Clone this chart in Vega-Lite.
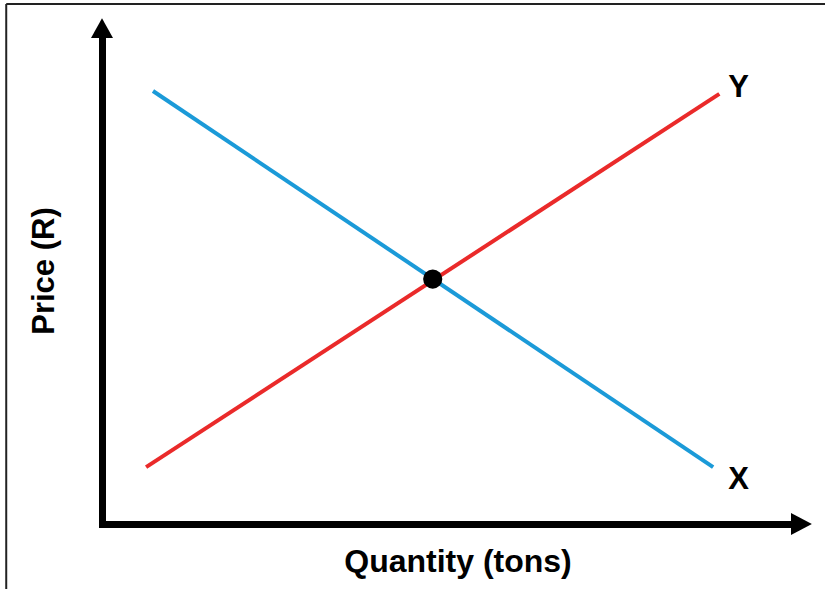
{
  "$schema": "https://vega.github.io/schema/vega-lite/v6.json",
  "width": 689,
  "height": 486,
  "autosize": {"type": "none"},
  "padding": {"left": 102, "top": 38, "right": 34, "bottom": 65},
  "background": "white",
  "config": {
    "view": {"stroke": null},
    "axis": {
      "ticks": false,
      "labels": false,
      "grid": false,
      "domainColor": "#000000",
      "domainWidth": 7,
      "domainCap": "square",
      "titleFont": "Liberation Sans",
      "titleFontSize": 31,
      "titleFontWeight": "bold",
      "titleColor": "#000000"
    },
    "axisX": {"titleX": 355.5, "titleY": 47, "titleBaseline": "alphabetic", "titleAlign": "center", "titleFontSize": 32},
    "axisY": {"titleX": -49, "titleY": 232.5, "titleBaseline": "alphabetic", "titleAlign": "center", "titleAngle": 270}
  },
  "datasets": {
    "curves": [
      {"series": "X", "q": 7.4, "p": 89.1},
      {"series": "X", "q": 88.7, "p": 11.7},
      {"series": "Y", "q": 6.4, "p": 11.7},
      {"series": "Y", "q": 89.6, "p": 88.5}
    ],
    "equilibrium": [{"q": 48.0, "p": 50.4}],
    "labels": [
      {"label": "Y", "q": 92.4, "p": 87.9},
      {"label": "X", "q": 92.4, "p": 7.2}
    ],
    "xarrow": [{"q": 100, "p": 0}],
    "yarrow": [{"q": 0, "p": 100}],
    "frame": [
      {"q": -13.9, "q2": -13.9, "p": -14, "p2": 107},
      {"q": -13.9, "q2": 105, "p": 107, "p2": 107}
    ]
  },
  "layer": [
    {
      "data": {"name": "curves"},
      "mark": {"type": "line", "strokeWidth": 4},
      "encoding": {
        "x": {
          "field": "q", "type": "quantitative", "title": "Quantity (tons)",
          "scale": {"domain": [0, 100], "nice": false, "zero": false}
        },
        "y": {
          "field": "p", "type": "quantitative", "title": "Price (R)",
          "scale": {"domain": [0, 100], "nice": false, "zero": false}
        },
        "color": {
          "field": "series", "type": "nominal",
          "scale": {"domain": ["X", "Y"], "range": ["#1b9ad8", "#ea2a2a"]},
          "legend": null
        }
      }
    },
    {
      "data": {"name": "equilibrium"},
      "mark": {"type": "point", "shape": "circle", "filled": true, "size": 370, "color": "#000000", "opacity": 1, "strokeWidth": 0},
      "encoding": {
        "x": {"field": "q", "type": "quantitative", "title": "Quantity (tons)"},
        "y": {"field": "p", "type": "quantitative", "title": "Price (R)"}
      }
    },
    {
      "data": {"name": "labels"},
      "mark": {"type": "text", "font": "Liberation Sans", "fontSize": 31, "fontWeight": "bold", "color": "#000000", "align": "center", "baseline": "alphabetic"},
      "encoding": {
        "x": {"field": "q", "type": "quantitative", "title": "Quantity (tons)"},
        "y": {"field": "p", "type": "quantitative", "title": "Price (R)"},
        "text": {"field": "label"}
      }
    },
    {
      "data": {"name": "xarrow"},
      "mark": {"type": "point", "shape": "M0,-1L1.9,0L0,1Z", "filled": true, "size": 484, "color": "#000000", "opacity": 1, "strokeWidth": 0},
      "encoding": {
        "x": {"field": "q", "type": "quantitative", "title": "Quantity (tons)"},
        "y": {"field": "p", "type": "quantitative", "title": "Price (R)"}
      }
    },
    {
      "data": {"name": "yarrow"},
      "mark": {"type": "point", "shape": "M-1,0L0,-1.8L1,0Z", "filled": true, "size": 484, "color": "#000000", "opacity": 1, "strokeWidth": 0},
      "encoding": {
        "x": {"field": "q", "type": "quantitative", "title": "Quantity (tons)"},
        "y": {"field": "p", "type": "quantitative", "title": "Price (R)"}
      }
    },
    {
      "data": {"name": "frame"},
      "mark": {"type": "rule", "color": "#222222", "strokeWidth": 2},
      "encoding": {
        "x": {"field": "q", "type": "quantitative", "title": "Quantity (tons)"},
        "x2": {"field": "q2"},
        "y": {"field": "p", "type": "quantitative", "title": "Price (R)"},
        "y2": {"field": "p2"}
      }
    }
  ]
}
